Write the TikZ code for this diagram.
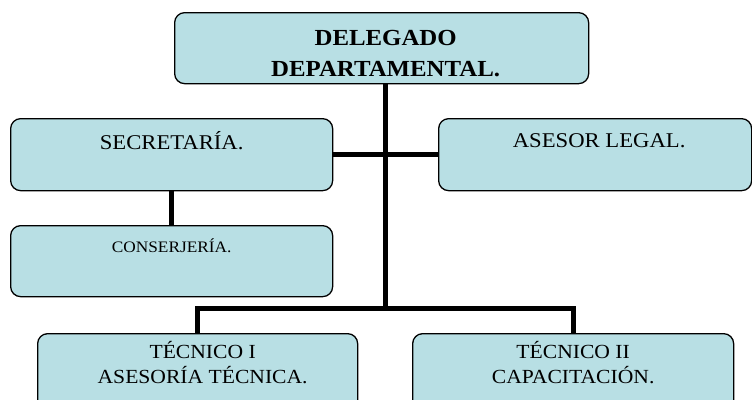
\documentclass[tikz,border=0pt]{standalone}
\usepackage{fontspec}
\setmainfont{Liberation Serif}[FakeStretch=1.08]
\usetikzlibrary{positioning, calc}

\tikzset{
  unit/.style = {draw = black, line width = 1.3pt, rounded corners = 10pt,
    fill = orgfill, inner sep = 0pt, anchor = north west},
  conn/.style = {line width = 5pt, black},
  txt/.style = {anchor = base, align = center, inner sep = 0pt}
}
\definecolor{orgfill}{RGB}{184,223,228}

\begin{document}
\begin{tikzpicture}[x = 1pt, y = -1pt]
\useasboundingbox (0, 0) rectangle (752, 399);
\clip (0, 0) rectangle (752, 399);

\node[unit, minimum width = 414, minimum height = 71] (deleg) at (174, 12) {};
\node[unit, minimum width = 322, minimum height = 72] (secre) at (10, 118) {};
\node[unit, minimum width = 313, minimum height = 72] (asesor) at (438, 118) {};
\node[unit, minimum width = 322, minimum height = 71] (conser) at (10, 225) {};
\node[unit, minimum width = 320, minimum height = 90] (tecuno) at (37, 333) {};
\node[unit, minimum width = 321, minimum height = 90] (tecdos) at (412, 333) {};
\coordinate (junta) at (385, 308);

% anchor=base sits on the last line
\node[txt, font = \fontsize{23}{31}\selectfont\bfseries]
  at ($(deleg.north) + (4, 64)$) {DELEGADO\\DEPARTAMENTAL.};
\node[txt, font = \fontsize{21}{24}\selectfont]
  at ($(secre.north) + (0, 31)$) {SECRETARÍA.};
\node[txt, font = \fontsize{21}{24}\selectfont]
  at ($(asesor.north) + (4, 29)$) {ASESOR LEGAL.};
\node[txt, font = \fontsize{16}{20}\selectfont]
  at ($(conser.north) + (0, 27)$) {CONSERJERÍA.};
\node[txt, font = \fontsize{20}{25}\selectfont]
  at ($(tecuno.north) + (5, 50)$) {TÉCNICO I\\ASESORÍA TÉCNICA.};
\node[txt, font = \fontsize{20}{25}\selectfont]
  at ($(tecdos.north) + (0, 50)$) {TÉCNICO II\\CAPACITACIÓN.};

\draw[conn] (deleg.south -| junta) -- (junta);
\draw[conn] (secre.east) -- (asesor.west);
\draw[conn] (secre.south) -- (conser.north);
\draw[conn] (tecuno.north) |- (junta) -| (tecdos.north);
\end{tikzpicture}
\end{document}
